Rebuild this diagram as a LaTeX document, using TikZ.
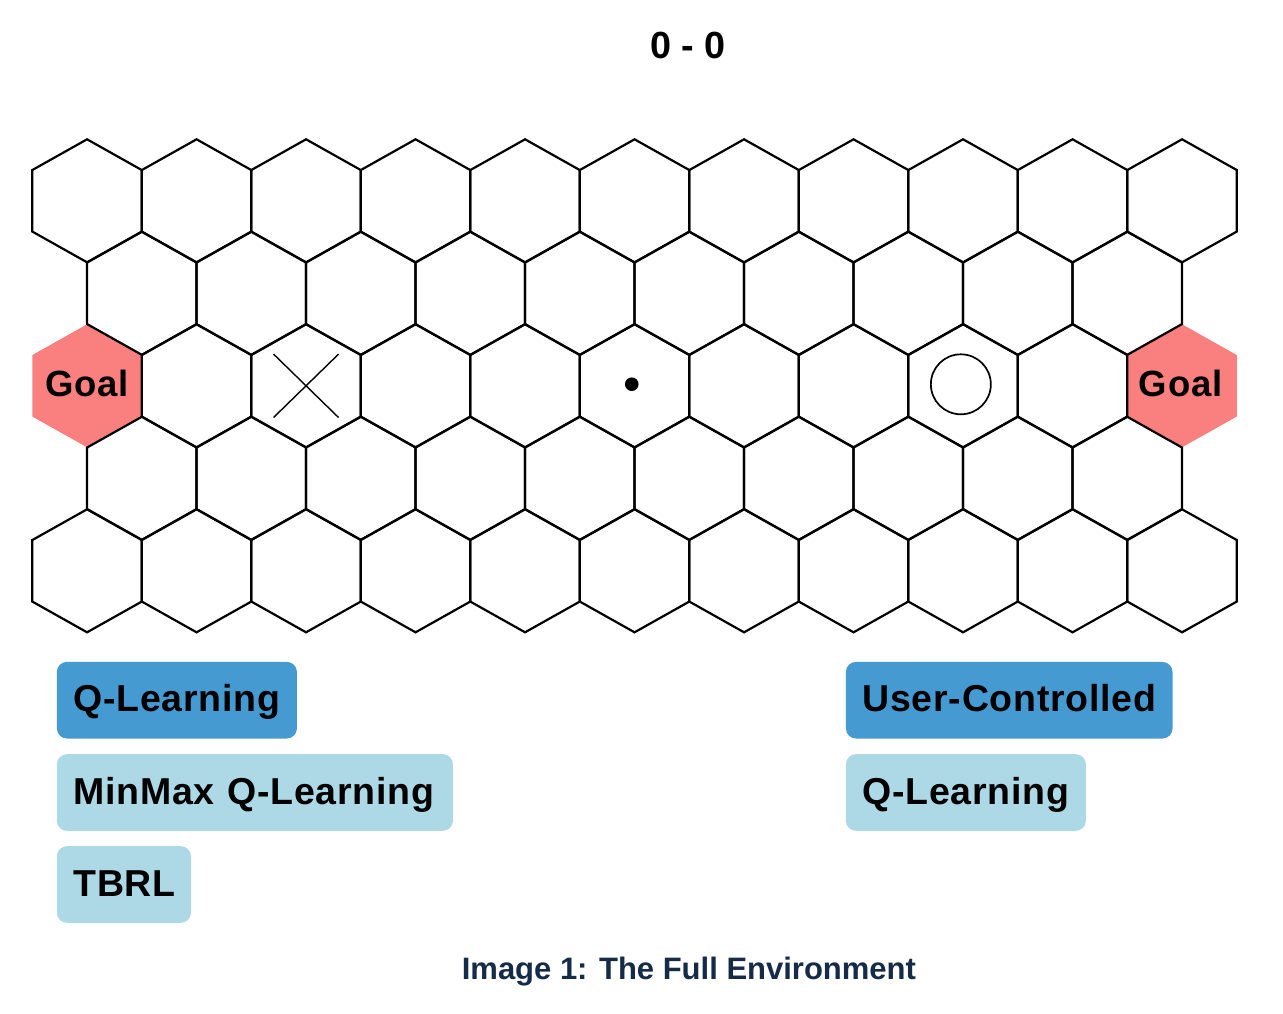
\documentclass[tikz,border=0pt]{standalone}
\usepackage{fontspec}
\setmainfont{Liberation Sans}
\newfontfamily\btnfont[LetterSpace=2]{Liberation Sans}
\definecolor{goalred}{RGB}{250,128,128}
\definecolor{btndark}{RGB}{70,154,210}
\definecolor{btnlight}{RGB}{173,216,230}
\definecolor{capnavy}{RGB}{22,43,72}
\begin{document}
\begin{tikzpicture}[x=1pt,y=-1pt,
  hexline/.style={line width=2.2pt, line join=miter},
  goalfill/.style={fill=goalred},
  goaltext/.style={font=\btnfont\fontsize{36.5}{38}\selectfont\bfseries, anchor=base},
  btn/.style={rounded corners=10pt, anchor=north west, minimum height=76.6pt,
    text height=23.4pt, text depth=0pt, inner xsep=16.6pt, inner ysep=0pt,
    align=left, font=\btnfont\fontsize{37.5}{40}\selectfont\bfseries},
  btnon/.style={btn, fill=btndark},
  btnoff/.style={btn, fill=btnlight},
  marker/.style={line width=1.7pt}
]
\useasboundingbox (0,0) rectangle (1283,1013);
% hex centres
\foreach \r in {0,...,4}{
  \pgfmathsetmacro\cy{200.8+92.5*\r}
  \pgfmathtruncatemacro\odd{mod(\r,2)}
  \ifnum\odd=0 \def\n{10}\def\off{87.05}\else\def\n{9}\def\off{141.8}\fi
  \foreach \i in {0,...,\n}{
    \pgfmathsetmacro\cx{\off+109.5*\i}
    \coordinate (h-\r-\i) at (\cx,\cy);
  }
}
% goal fills
\foreach \g in {0,10}{
  \fill[goalfill, shift={(h-2-\g)}] (0,-61.5) -- (54.75,-30.75) -- (54.75,30.75) -- (0,61.5) -- (-54.75,30.75) -- (-54.75,-30.75) -- cycle;
}
% grid
\foreach \r in {0,...,4}{
  \pgfmathtruncatemacro\odd{mod(\r,2)}
  \ifnum\odd=0 \def\n{10}\else\def\n{9}\fi
  \foreach \i in {0,...,\n}{
    \pgfmathtruncatemacro\isgoal{(\r==2)&&((\i==0)||(\i==10))}
    \ifnum\isgoal=0
      \draw[hexline, shift={(h-\r-\i)}] (0,-61.5) -- (54.75,-30.75) -- (54.75,30.75) -- (0,61.5) -- (-54.75,30.75) -- (-54.75,-30.75) -- cycle;
    \fi
  }
}
\node[goaltext] (goalL) at (87.05,396) {Goal};
\node[goaltext] (goalR) at (1180.6,396) {Goal};
% markers
\draw[line width=1.4pt] ([shift={(-32.5,-31.7)}]h-2-2) -- ([shift={(32.5,31.7)}]h-2-2);
\draw[line width=1.4pt] ([shift={(32.5,-31.7)}]h-2-2) -- ([shift={(-32.5,31.7)}]h-2-2);
\fill ([shift={(-2.8,-1.6)}]h-2-5) circle[radius=6.8pt];
\draw[marker] ([shift={(-2.2,-1.5)}]h-2-8) circle[radius=30pt];
% score and caption
\node[font=\fontsize{37.8}{40}\selectfont\bfseries, anchor=base] (score) at (688,58.3) {0 - 0};
\node[font=\fontsize{31}{34}\selectfont\bfseries, text=capnavy, anchor=base] (caption) at (688.9,979.3) {Image 1: The Full Environment};
% buttons
\node[btnon, text width=206.8pt] (qlA) at (56.7,661.7) {Q-Learning};
\node[btnoff, text width=362.8pt] (mmql) at (56.7,754) {MinMax Q-Learning};
\node[btnoff, text width=100.8pt] (tbrl) at (56.7,846) {TBRL};
\node[btnon, text width=293.4pt] (user) at (845.7,661.7) {User-Controlled};
\node[btnoff, text width=206.8pt] (qlB) at (845.7,754) {Q-Learning};
\end{tikzpicture}
\end{document}
